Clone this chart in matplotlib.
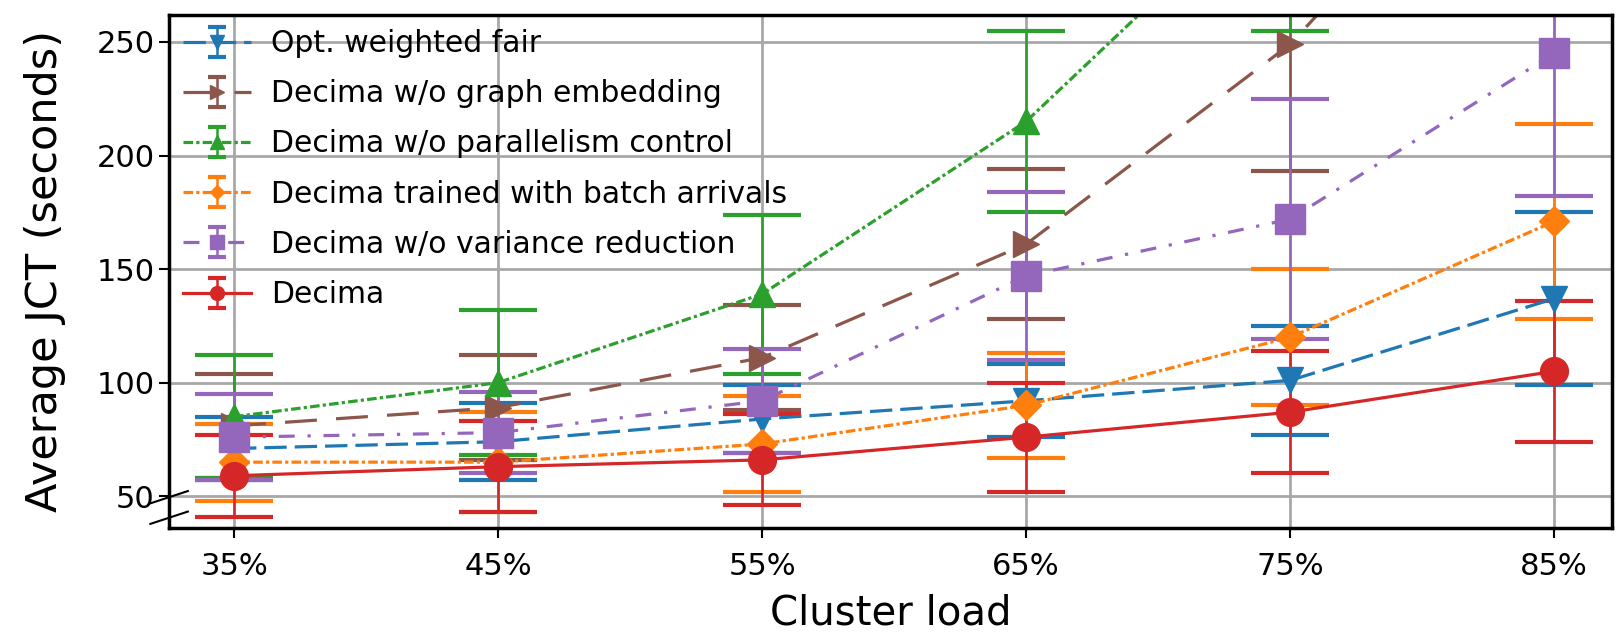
import matplotlib
matplotlib.use("Agg")
import matplotlib.pyplot as plt
from matplotlib.container import ErrorbarContainer
from matplotlib.legend_handler import HandlerErrorbar

# cluster load categories
loads = ["35%", "45%", "55%", "65%", "75%", "85%"]

# average JCT (seconds) and error half-widths
opt_fair = [71, 74, 84, 92, 101, 137]
opt_fair_err = [14, 17, 15, 16, 24, 38]

no_graph = [81, 89, 111, 161, 249, 375]
no_graph_err = [23, 23, 23, 33, 56, 75]

no_par = [85, 100, 139, 215, 325, 480]
no_par_err = [27, 32, 35, 40, 70, 110]

batch = [65, 65, 73, 90, 120, 171]
batch_err = [17, 22, 21, 23, 30, 43]

no_var = [76, 78, 92, 147, 172, 245]
no_var_err = [19, 18, 23, 37, 53, 63]

decima = [59, 63, 66, 76, 87, 105]
decima_err = [18, 20, 20, 24, 27, 31]

labels = ["Opt. weighted fair", "Decima w/o graph embedding",
          "Decima w/o parallelism control", "Decima trained with batch arrivals",
          "Decima w/o variance reduction", "Decima"]

series = [
    (opt_fair, opt_fair_err, "#1f77b4", "v", (7, 2.5)),
    (no_graph, no_graph_err, "#8c564b", ">", (10, 6)),
    (no_par, no_par_err, "#2ca02c", "^", (3, 1, 1, 1)),
    (batch, batch_err, "#ff7f0e", "D", (3, 1, 1, 1)),
    (no_var, no_var_err, "#9467bd", "s", (5, 4, 1, 4)),
    (decima, decima_err, "#d62728", "o", None),
]
sizes = {"o": 20, "s": 21, "D": 15, "v": 19, "^": 19, ">": 19}

fig = plt.figure(figsize=(16.18, 6.39), dpi=100)
ax = fig.add_axes([0.1045, 0.1737, 0.892, 0.8033])

x = list(range(len(loads)))
handles = []
for (vals, err, col, mk, dash), lab in zip(series, labels):
    c = ax.errorbar(x, vals, yerr=err, color=col, marker=mk, markersize=sizes[mk],
                    linewidth=2.3, elinewidth=1.8, capsize=28, capthick=3,
                    label=lab)
    if dash is not None:
        c[0].set_dashes(dash)
    handles.append(c)

ax.set_xlim(-0.246, 5.22)
ax.set_ylim(36, 262)
ax.set_xticks(x)
ax.set_xticklabels(loads)
ax.set_yticks([50, 100, 150, 200, 250])
ax.tick_params(labelsize=22, length=7, width=1.5)
ax.tick_params(axis="x", pad=10)
ax.grid(True, color="#a8a8a8", linewidth=2)
ax.set_axisbelow(True)
for s in ax.spines.values():
    s.set_linewidth(2.5)

ax.set_xlabel("Cluster load", fontsize=29, labelpad=9)
ax.set_ylabel("Average JCT (seconds)", fontsize=31, labelpad=22)

# axis break marks on the left spine
for yb in (0.06, 0.02):
    ax.plot([-0.013, 0.013], [yb - 0.012, yb + 0.012], transform=ax.transAxes,
            color="black", linewidth=1.5, clip_on=False)


# smaller caps in the legend handles
def small_caps(legend_handle, orig_handle):
    legend_handle.update_from(orig_handle)
    if hasattr(legend_handle, "get_marker") and legend_handle.get_marker() == "_":
        legend_handle.set_markersize(13)


ax.legend(handles=handles, loc="upper left", bbox_to_anchor=(0.0, 1.0),
          fontsize=21.5, frameon=False, markerscale=0.5, handlelength=2.25,
          handletextpad=0.68, labelspacing=0.71, borderaxespad=0.08,
          handler_map={ErrorbarContainer: HandlerErrorbar(update_func=small_caps)})

fig.savefig("out.png", dpi=100)
